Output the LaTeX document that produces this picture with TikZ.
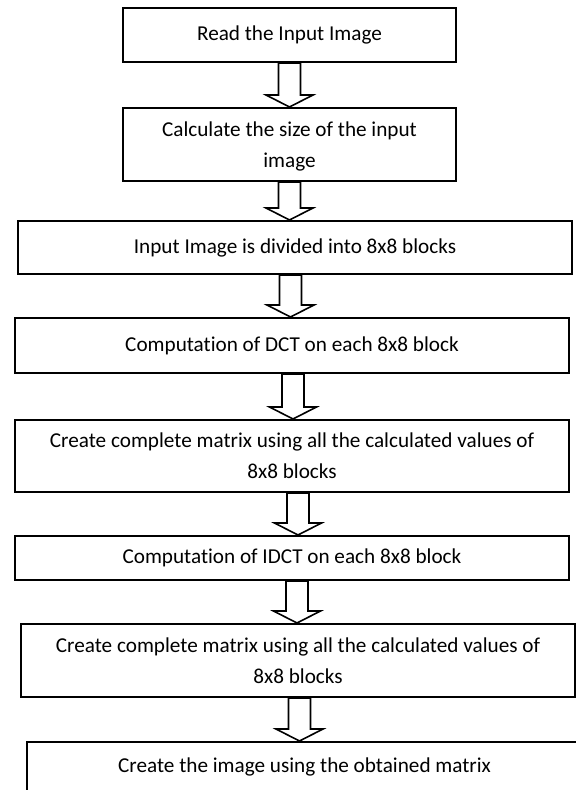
\documentclass[tikz,border=0pt]{standalone}
\usepackage{fontspec}
\setmainfont{Carlito}[Ligatures=NoCommon]
\usetikzlibrary{calc}

\newcommand\flowarrow[3][0pt]{%
  \draw[flow] let \p1=(#2.south), \p2=(#3.north), \n1={\x1+(#1)} in
    ({\n1-5.5pt},\y1) -- ({\n1-5.5pt},\y2+6pt) -- ({\n1-11.75pt},\y2+6pt) -- (\n1,\y2)
    -- ({\n1+11.75pt},\y2+6pt) -- ({\n1+5.5pt},\y2+6pt) -- ({\n1+5.5pt},\y1) -- cycle;}

\begin{document}
\begin{tikzpicture}[
  x=0.5pt, y=-0.5pt,
  stepbox/.style={rectangle, draw, line width=1pt, inner sep=0pt, align=center,
    font=\fontsize{10.6pt}{15.5pt}\selectfont},
  flow/.style={draw, line width=0.8pt, line join=miter}
]
\useasboundingbox (0,0) rectangle (576,790);

\node[stepbox, minimum width=166.5pt, minimum height=27pt] (read) at (289.5,35) {Read the Input Image};
\node[stepbox, minimum width=166.5pt, minimum height=36.5pt, text depth=0pt] (size) at (289.5,144.5) {Calculate the size of the input\\image};
\node[stepbox, minimum width=277pt, minimum height=26.5pt] (divide) at (295,247.5) {Input Image is divided into 8x8 blocks};
\node[stepbox, minimum width=277pt, minimum height=27.5pt] (dct) at (292,345.5) {Computation of DCT on each 8x8 block};
\node[stepbox, minimum width=277pt, minimum height=36pt] (matrix) at (292,456) {Create complete matrix using all the calculated values of\\8x8 blocks};
\node[stepbox, minimum width=277pt, minimum height=22pt] (idct) at (292,558) {Computation of IDCT on each 8x8 block};
\node[stepbox, minimum width=277pt, minimum height=36.5pt] (matrixb) at (298,660.5) {Create complete matrix using all the calculated values of\\8x8 blocks};
\node[stepbox, minimum width=277.5pt, minimum height=25pt] (recon) at (304.5,767) {Create the image using the obtained matrix};

\flowarrow{read}{size}
\flowarrow{size}{divide}
\flowarrow[-2.25pt]{divide}{dct}
\flowarrow[0.5pt]{dct}{matrix}
\flowarrow[3pt]{matrix}{idct}
\flowarrow[2.5pt]{idct}{matrixb}
\flowarrow[0.75pt]{matrixb}{recon}
\end{tikzpicture}
\end{document}
